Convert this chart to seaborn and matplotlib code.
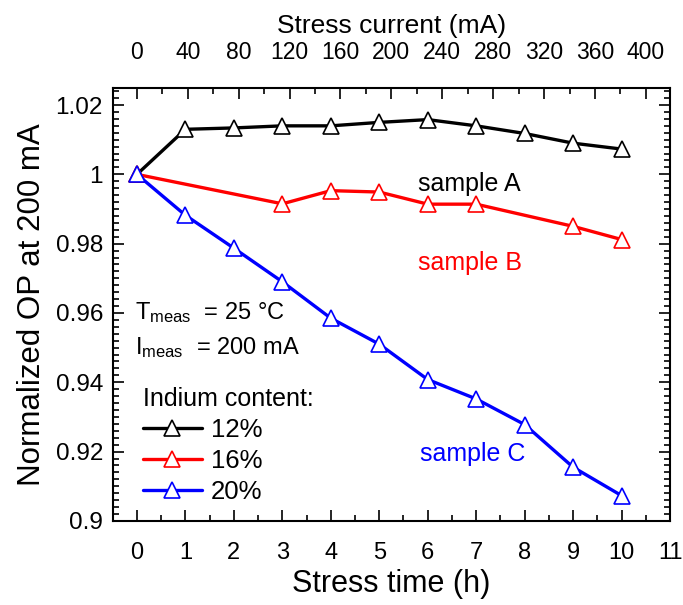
import numpy as np
import pandas as pd
import seaborn as sns
import matplotlib
matplotlib.use("Agg")
import matplotlib.pyplot as plt
from matplotlib.ticker import MultipleLocator

# data
hours_a = [0, 1, 2, 3, 4, 5, 6, 7, 8, 9, 10]
op_a = [1.0, 1.0130, 1.0134, 1.0140, 1.0140, 1.0150, 1.0158, 1.0140, 1.0118, 1.0090, 1.0073]
hours_b = [0, 3, 4, 5, 6, 7, 9, 10]
op_b = [1.0, 0.9915, 0.9953, 0.9949, 0.9914, 0.9914, 0.9850, 0.9812]
hours_c = [0, 1, 2, 3, 4, 5, 6, 7, 8, 9, 10]
op_c = [1.0, 0.9882, 0.9787, 0.9690, 0.9585, 0.9510, 0.9408, 0.9352, 0.9278, 0.9155, 0.9073]
labels = ["12%", "16%", "20%"]
colors = ["black", "red", "blue"]
current_ticks = list(range(0, 401, 40))
hour_ticks = list(range(0, 12))
y_ticks = [0.9, 0.92, 0.94, 0.96, 0.98, 1.0, 1.02]
y_ticklabels = ["0.9", "0.92", "0.94", "0.96", "0.98", "1", "1.02"]

sns.set_theme(style="ticks")
plt.rcParams['font.family'] = ['Liberation Sans', 'DejaVu Sans']
plt.rcParams['mathtext.fontset'] = 'custom'
plt.rcParams['mathtext.rm'] = 'Liberation Sans'
plt.rcParams['mathtext.it'] = 'Liberation Sans'
for k in ['text.color', 'axes.labelcolor', 'xtick.color', 'ytick.color', 'axes.edgecolor']:
    plt.rcParams[k] = 'black'

fig = plt.figure(figsize=(6.83, 6.05), dpi=100)
ax = fig.add_axes([0.165, 0.139, 0.816, 0.716])

series = [(hours_a, op_a), (hours_b, op_b), (hours_c, op_c)]
for (hx, hy), lab, col in zip(series, labels, colors):
    sns.lineplot(x=hx, y=hy, ax=ax, color=col, linewidth=2.4, marker="^",
                 markersize=12, markerfacecolor="white", markeredgecolor=col,
                 markeredgewidth=1.2, label=lab)

ax.set_xlim(-0.5, 11)
ax.set_ylim(0.9, 1.025)
ax.set_xticks(hour_ticks)
ax.xaxis.set_minor_locator(MultipleLocator(0.5))
ax.set_yticks(y_ticks)
ax.set_yticklabels(y_ticklabels)
ax.yaxis.set_minor_locator(MultipleLocator(0.002))
ax.tick_params(which="both", direction="in", right=True, width=1.2)
ax.tick_params(which="major", length=8)
ax.tick_params(which="minor", length=4.5)
ax.tick_params(axis="x", labelsize=17, pad=15)
ax.tick_params(axis="y", labelsize=17.5, pad=7)
ax.set_xlabel("Stress time (h)", fontsize=22, labelpad=4)
ax.set_ylabel("Normalized OP at 200 mA", fontsize=22.5, labelpad=6)
for sp in ax.spines.values():
    sp.set_linewidth(1.5)

ax2 = ax.twiny()
ax2.set_xlim(-19, 419)
ax2.set_xticks(current_ticks)
ax2.xaxis.set_minor_locator(MultipleLocator(20))
ax2.tick_params(which="both", direction="in", labelsize=16.5, width=1.2)
ax2.tick_params(which="major", length=8, pad=17)
ax2.tick_params(which="minor", length=4.5)
ax2.set_xlabel("Stress current (mA)", fontsize=19, labelpad=6)

ax.text(5.8, 0.9971, "sample A", color="black", fontsize=18, va="center")
ax.text(5.8, 0.9743, "sample B", color="red", fontsize=18, va="center")
ax.text(5.85, 0.9194, "sample C", color="blue", fontsize=18, va="center")
ax.text(-0.03, 0.9601, r"T$_{\mathregular{meas}}$  = 25 °C", fontsize=17, va="center")
ax.text(-0.03, 0.9500, r"I$_{\mathregular{meas}}$  = 200 mA", fontsize=17, va="center")

leg = ax.legend(title="Indium content:", loc="lower left", bbox_to_anchor=(0.024, 0.0),
                frameon=False, fontsize=18.5, title_fontsize=18, handlelength=2.3,
                handletextpad=0.36, labelspacing=0.28, alignment="left", borderaxespad=0.25)

fig.savefig("out.png", dpi=100)
